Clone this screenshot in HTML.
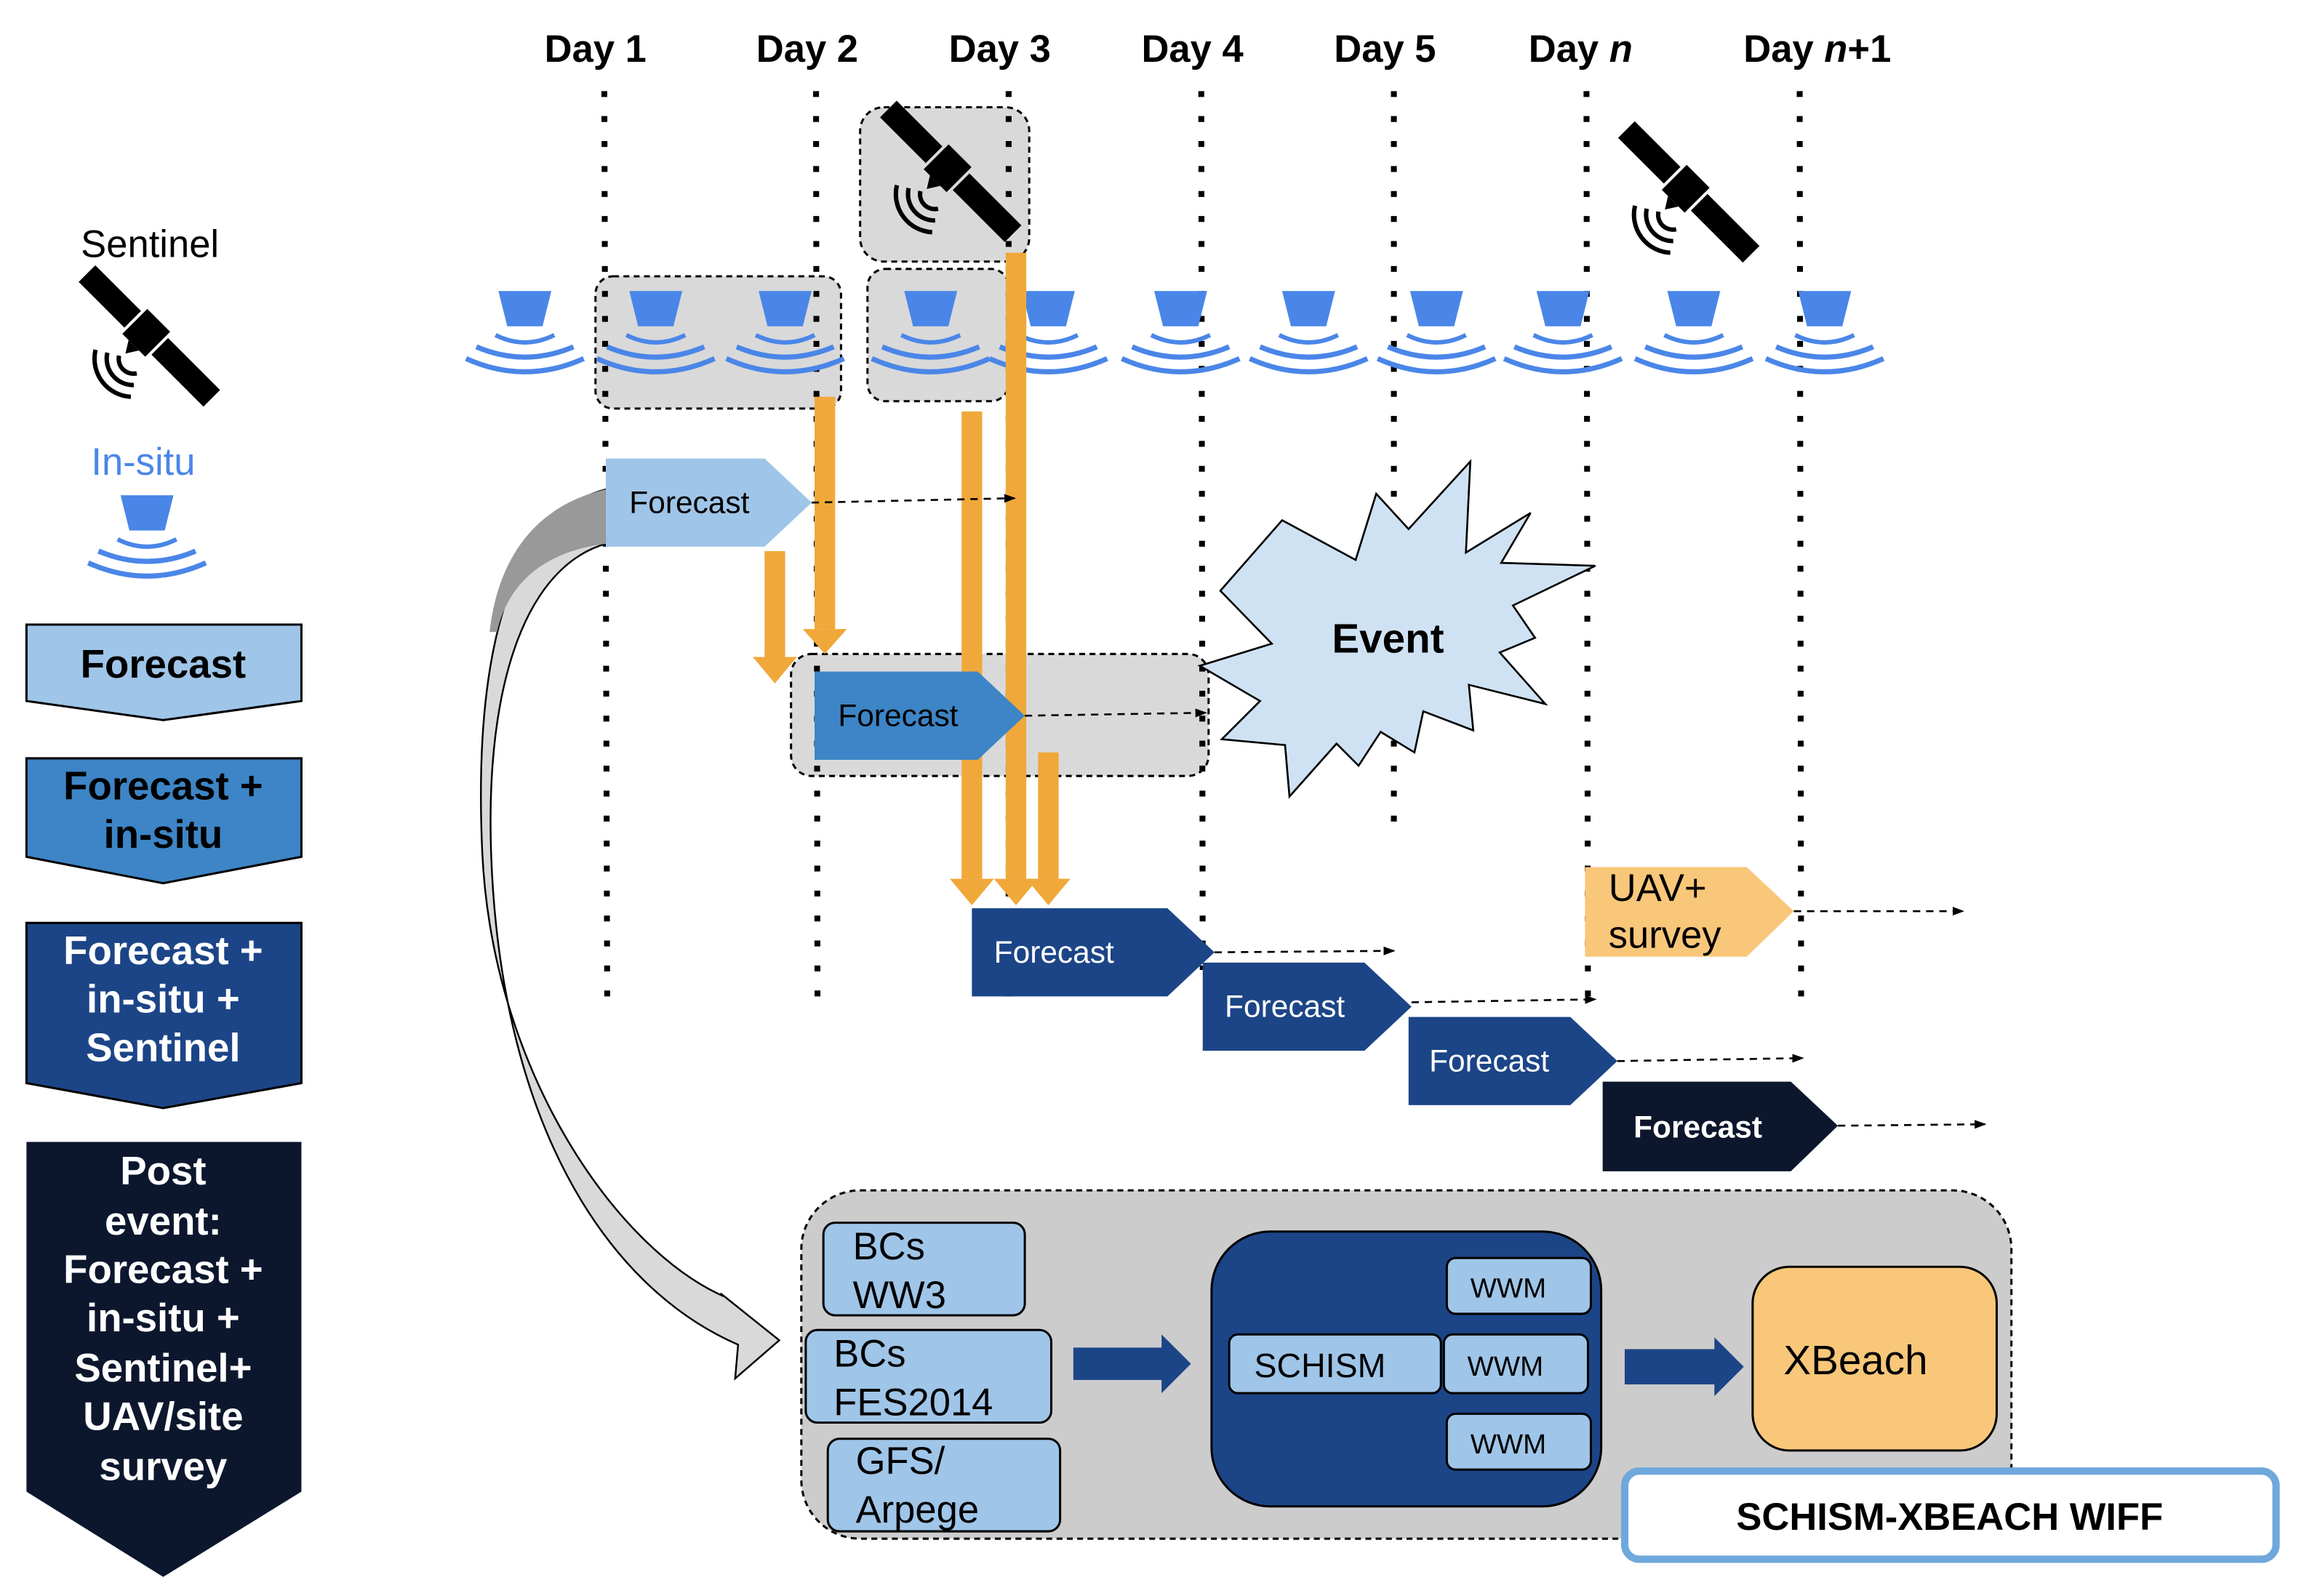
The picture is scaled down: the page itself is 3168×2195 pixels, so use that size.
<!DOCTYPE html>
<html><head><meta charset="utf-8"><style>
html,body{margin:0;padding:0;background:#fff;}
svg{display:block;}
text{font-family:"Liberation Sans",Arial,sans-serif;}
</style></head><body>
<svg width="3168" height="2195" viewBox="0 0 1567 1086" preserveAspectRatio="none" xmlns="http://www.w3.org/2000/svg">
<defs>
<g id="sensor">
 <path d="M-18,0 L18,0 L12,24 L-12,24 Z" fill="#4a86e8"/>
 <path d="M-20,30 Q0,40 20,30" fill="none" stroke="#4a86e8" stroke-width="3"/>
 <path d="M-33,38 Q0,52 33,38" fill="none" stroke="#4a86e8" stroke-width="3.5"/>
 <path d="M-40,46 Q0,64 40,46" fill="none" stroke="#4a86e8" stroke-width="3.5"/>
</g>
<g id="sat">
 <g transform="rotate(45)">
  <rect x="-62" y="-8" width="44" height="16" fill="#000"/>
  <rect x="-16" y="-12" width="22" height="24" fill="#000"/>
  <rect x="8" y="-8" width="50" height="16" fill="#000"/>
  <path d="M-10,12 L0,12 L-5,20 Z" fill="#000"/>
 </g>
 <path d="M-22,12 A10,10 0 0 0 -10,24" fill="none" stroke="#000" stroke-width="3"/>
 <path d="M-30,10 A18,18 0 0 0 -12,32" fill="none" stroke="#000" stroke-width="3"/>
 <path d="M-38,8 A26,26 0 0 0 -14,40" fill="none" stroke="#000" stroke-width="3"/>
</g>
<marker id="ah" markerWidth="8" markerHeight="6" refX="7" refY="3" orient="auto" markerUnits="userSpaceOnUse"><path d="M0,0 L8,3 L0,6 Z" fill="#000"/></marker>
</defs>

<g font-weight="bold" font-size="26" fill="#000" text-anchor="middle">
<text x="405" y="42">Day 1</text>
<text x="549" y="42">Day 2</text>
<text x="680" y="42">Day 3</text>
<text x="811" y="42">Day 4</text>
<text x="942" y="42">Day 5</text>
<text x="1075" y="42">Day <tspan font-style="italic">n</tspan></text>
<text x="1236" y="42">Day <tspan font-style="italic">n</tspan>+1</text>
</g>

<rect x="585" y="73" width="115" height="105" rx="16" fill="#d9d9d9" stroke="#000" stroke-width="1.5" stroke-dasharray="4,3"/>
<rect x="405" y="188" width="167" height="90" rx="12" fill="#d9d9d9" stroke="#000" stroke-width="1.5" stroke-dasharray="4,3"/>
<rect x="590" y="183" width="96" height="90" rx="12" fill="#d9d9d9" stroke="#000" stroke-width="1.5" stroke-dasharray="4,3"/>
<rect x="538" y="445" width="284" height="83" rx="14" fill="#d9d9d9" stroke="#000" stroke-width="1.5" stroke-dasharray="4,3"/>

<g stroke="#000" stroke-width="4" stroke-dasharray="4,13">
<line x1="411" y1="62" x2="413" y2="685"/>
<line x1="555" y1="62" x2="556" y2="685"/>
<line x1="686" y1="62" x2="686" y2="685"/>
<line x1="817" y1="62" x2="818" y2="660"/>
<line x1="948" y1="62" x2="948" y2="560"/>
<line x1="1079" y1="62" x2="1080" y2="690"/>
<line x1="1224" y1="62" x2="1225" y2="690"/>
</g>

<use href="#sat" x="648" y="118"/>
<use href="#sat" x="1150" y="132"/>
<use href="#sat" x="103" y="230"/>

<use href="#sensor" x="357" y="198"/>
<use href="#sensor" x="446" y="198"/>
<use href="#sensor" x="534" y="198"/>
<use href="#sensor" x="633" y="198"/>
<use href="#sensor" x="713" y="198"/>
<use href="#sensor" x="803" y="198"/>
<use href="#sensor" x="890" y="198"/>
<use href="#sensor" x="977" y="198"/>
<use href="#sensor" x="1063" y="198"/>
<use href="#sensor" x="1152" y="198"/>
<use href="#sensor" x="1241" y="198"/>

<text x="55" y="175" font-size="26" fill="#000">Sentinel</text>
<text x="62" y="323" font-size="26" fill="#4a86e8">In-situ</text>
<use href="#sensor" x="100" y="337"/>

<path d="M18,425 L205,425 L205,477 L111,490 L18,477 Z" fill="#9fc5e8" stroke="#000" stroke-width="1.5"/>
<text x="111" y="461" font-size="27" font-weight="bold" text-anchor="middle" fill="#000">Forecast</text>

<path d="M18,516 L205,516 L205,583 L111,601 L18,583 Z" fill="#3d85c6" stroke="#000" stroke-width="1.5"/>
<g font-size="27" font-weight="bold" text-anchor="middle" fill="#000">
<text x="111" y="544">Forecast +</text><text x="111" y="577">in-situ</text></g>

<path d="M18,628 L205,628 L205,737 L111,754 L18,737 Z" fill="#1c4587" stroke="#000" stroke-width="1.5"/>
<g font-size="27" font-weight="bold" text-anchor="middle" fill="#fff">
<text x="111" y="656">Forecast +</text><text x="111" y="689">in-situ +</text><text x="111" y="722">Sentinel</text></g>

<path d="M18,777 L205,777 L205,1015 L111,1073 L18,1015 Z" fill="#0c172d"/>
<g font-size="27" font-weight="bold" text-anchor="middle" fill="#fff">
<text x="111" y="806">Post</text><text x="111" y="840">event:</text><text x="111" y="873">Forecast +</text>
<text x="111" y="906">in-situ +</text><text x="111" y="940">Sentinel+</text><text x="111" y="973">UAV/site</text><text x="111" y="1007">survey</text></g>

<!-- curved gray arrow -->
<path d="M412,333 C345,350 322,450 328,580 C335,730 420,850 492,882 L490,880 L530,912 L500,938 L502,915 C410,875 340,760 334,580 C330,460 360,385 412,370 Z" fill="#d9d9d9" stroke="#000" stroke-width="1.2"/>
<path d="M412,333 C360,345 338,385 333,430 L338,430 C346,395 372,375 412,370 Z" fill="#999"/>

<g fill="#f0a83a">
<rect x="554" y="270" width="14" height="158"/><path d="M546,428 L576,428 L561,445 Z"/>
<rect x="520" y="375" width="14" height="72"/><path d="M512,447 L542,447 L527,465 Z"/>
<rect x="654" y="280" width="14" height="318"/><path d="M646,598 L676,598 L661,616 Z"/>
<rect x="684" y="172" width="14" height="426"/><path d="M676,598 L706,598 L691,616 Z"/>
<rect x="706" y="512" width="14" height="86"/><path d="M698,598 L728,598 L713,616 Z"/>
</g>

<path d="M412,312 L520,312 L552,342 L520,372 L412,372 Z" fill="#9fc5e8"/>
<text x="428" y="349" font-size="21" fill="#000">Forecast</text>
<path d="M554,457 L665,457 L697,487 L665,517 L554,517 Z" fill="#3d85c6"/>
<text x="570" y="494" font-size="21" fill="#000">Forecast</text>
<path d="M661,618 L794,618 L826,648 L794,678 L661,678 Z" fill="#1c4587"/>
<text x="676" y="655" font-size="21" fill="#fff">Forecast</text>
<path d="M818,655 L928,655 L960,685 L928,715 L818,715 Z" fill="#1c4587"/>
<text x="833" y="692" font-size="21" fill="#fff">Forecast</text>
<path d="M958,692 L1068,692 L1100,722 L1068,752 L958,752 Z" fill="#1c4587"/>
<text x="972" y="729" font-size="21" fill="#fff">Forecast</text>
<path d="M1090,736 L1218,736 L1250,766 L1218,797 L1090,797 Z" fill="#0c172d"/>
<text x="1111" y="774" font-size="21" font-weight="bold" fill="#fff">Forecast</text>
<path d="M1078,590 L1188,590 L1220,620 L1188,651 L1078,651 Z" fill="#f9c77a"/>
<text x="1094" y="613" font-size="26" fill="#000">UAV+</text>
<text x="1094" y="645" font-size="26" fill="#000">survey</text>

<g stroke="#000" stroke-width="1.3" stroke-dasharray="5,4" fill="none" marker-end="url(#ah)">
<line x1="552" y1="342" x2="690" y2="339"/>
<line x1="697" y1="487" x2="820" y2="485"/>
<line x1="826" y1="648" x2="948" y2="647"/>
<line x1="960" y1="682" x2="1085" y2="680"/>
<line x1="1100" y1="722" x2="1226" y2="720"/>
<line x1="1250" y1="766" x2="1350" y2="765"/>
<line x1="1220" y1="620" x2="1335" y2="620"/>
</g>

<path d="M830,402 L872,354 L922,381 L936,336 L958,360 L1000,314 L997,376 L1041,349 L1021,383 L1085,385 L1029,412 L1044,434 L1020,444 L1051,479 L999,466 L1002,497 L968,484 L962,512 L939,498 L924,521 L909,506 L877,542 L874,507 L831,503 L857,477 L816,453 L865,438 Z" fill="#cfe2f3" stroke="#000" stroke-width="1.3"/>
<text x="944" y="444" font-size="28" font-weight="bold" text-anchor="middle" fill="#000">Event</text>

<rect x="545" y="810" width="823" height="237" rx="40" fill="#cccccc" stroke="#000" stroke-width="1.5" stroke-dasharray="4,3"/>
<g fill="#9fc5e8" stroke="#000" stroke-width="1.5">
<rect x="560" y="832" width="137" height="63" rx="8"/>
<rect x="548" y="905" width="167" height="63" rx="8"/>
<rect x="563" y="979" width="158" height="63" rx="8"/>
</g>
<g font-size="26" fill="#000">
<text x="580" y="857">BCs</text><text x="580" y="890">WW3</text>
<text x="567" y="930">BCs</text><text x="567" y="963">FES2014</text>
<text x="582" y="1003">GFS/</text><text x="582" y="1036">Arpege</text>
</g>
<path d="M730,917 L790,917 L790,908 L810,928 L790,948 L790,939 L730,939 Z" fill="#1c4587"/>
<path d="M1105,918 L1166,918 L1166,910 L1186,930 L1166,950 L1166,942 L1105,942 Z" fill="#1c4587"/>
<rect x="824" y="838" width="265" height="187" rx="40" fill="#1c4587" stroke="#000" stroke-width="1.5"/>
<g fill="#9fc5e8" stroke="#000" stroke-width="1.5">
<rect x="836" y="908" width="144" height="40" rx="6"/>
<rect x="984" y="856" width="98" height="38" rx="6"/>
<rect x="982" y="908" width="98" height="40" rx="6"/>
<rect x="984" y="962" width="98" height="38" rx="6"/>
</g>
<g font-size="23" fill="#000">
<text x="853" y="937">SCHISM</text>
<text x="1000" y="883" font-size="19">WWM</text>
<text x="998" y="936" font-size="19">WWM</text>
<text x="1000" y="989" font-size="19">WWM</text>
</g>
<rect x="1192" y="862" width="166" height="125" rx="25" fill="#f9c77a" stroke="#000" stroke-width="1.5"/>
<text x="1213" y="935" font-size="28" fill="#000">XBeach</text>
<rect x="1105" y="1001" width="443" height="60" rx="10" fill="#fff" stroke="#6fa8dc" stroke-width="5"/>
<text x="1326" y="1041" font-size="26" font-weight="bold" text-anchor="middle" fill="#000">SCHISM-XBEACH WIFF</text>
</svg>
</body></html>
